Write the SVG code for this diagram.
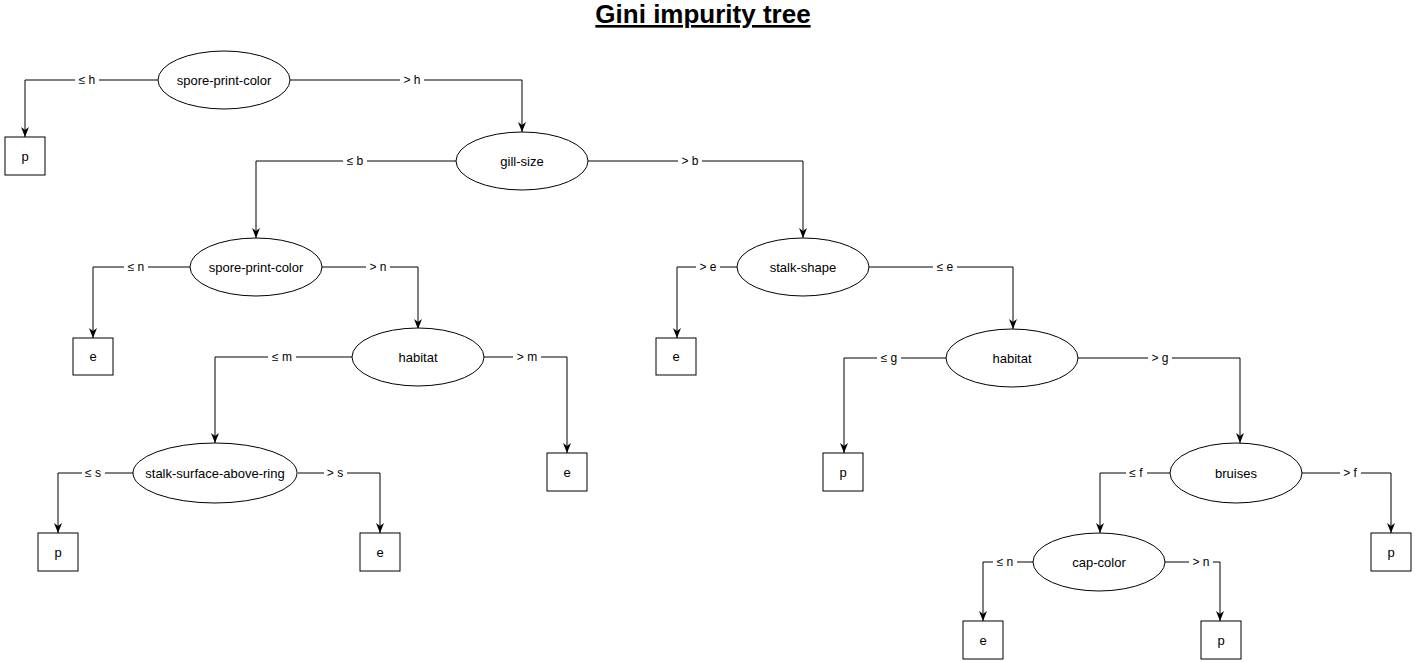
<svg xmlns="http://www.w3.org/2000/svg" width="1418" height="662" viewBox="0 0 1418 662">
<style>
.n ellipse,.n rect{fill:#fff;stroke:#000;stroke-width:1}
.n text{font-family:"Liberation Sans",Arial,sans-serif;font-size:13px;text-anchor:middle;dominant-baseline:central;fill:#000}
.e path{fill:none;stroke:#000;stroke-width:1;marker-end:url(#arr)}
.lb rect{fill:#fff;stroke:none}
.lb text{font-family:"Liberation Sans",Arial,sans-serif;font-size:12px;text-anchor:middle;dominant-baseline:central;fill:#000}
.title{font-family:"Liberation Sans",Arial,sans-serif;font-size:26px;font-weight:bold;text-anchor:middle;text-decoration:underline}
</style>
<defs>
<marker id="arr" viewBox="0 0 10 10" refX="10" refY="5" markerWidth="10" markerHeight="10" markerUnits="userSpaceOnUse" orient="auto">
<path d="M0,1 L10,5 L0,9 L3,5 z" fill="#000"/>
</marker>
</defs>
<rect width="1418" height="662" fill="#fff"/>
<text class="title" x="703" y="23">Gini impurity tree</text>

<g id="connectors" class="e">
<path d="M158,80 H25 V137"/>
<path d="M290,80 H522 V132"/>
<path d="M457,161 H256 V238"/>
<path d="M588,161 H803 V238"/>
<path d="M190,267 H93 V338"/>
<path d="M322,267 H418 V329"/>
<path d="M352,357 H215 V443"/>
<path d="M484,357 H567 V453"/>
<path d="M133,473 H58 V533"/>
<path d="M298,473 H380 V533"/>
<path d="M737,267 H677 V338"/>
<path d="M869,267 H1013 V329"/>
<path d="M946,358 H844 V453"/>
<path d="M1078,358 H1240 V443"/>
<path d="M1170,473 H1100 V533"/>
<path d="M1302,473 H1391 V533"/>
<path d="M1033,562 H983 V621"/>
<path d="M1165,562 H1220 V621"/>
</g>

<g id="labels" class="lb">
<rect x="75" y="73" width="24" height="14"/><text x="87" y="80">≤ h</text>
<rect x="400" y="73" width="24" height="14"/><text x="412" y="80">&gt; h</text>
<rect x="343" y="154" width="24" height="14"/><text x="355" y="161">≤ b</text>
<rect x="678" y="154" width="24" height="14"/><text x="690" y="161">&gt; b</text>
<rect x="124" y="260" width="24" height="14"/><text x="136" y="267">≤ n</text>
<rect x="366" y="260" width="24" height="14"/><text x="378" y="267">&gt; n</text>
<rect x="268" y="350" width="28" height="14"/><text x="282" y="357">≤ m</text>
<rect x="513" y="350" width="28" height="14"/><text x="527" y="357">&gt; m</text>
<rect x="82" y="466" width="23" height="14"/><text x="93" y="473">≤ s</text>
<rect x="324" y="466" width="23" height="14"/><text x="335" y="473">&gt; s</text>
<rect x="696" y="260" width="24" height="14"/><text x="708" y="267">&gt; e</text>
<rect x="933" y="260" width="24" height="14"/><text x="945" y="267">≤ e</text>
<rect x="877" y="351" width="24" height="14"/><text x="889" y="358">≤ g</text>
<rect x="1148" y="351" width="24" height="14"/><text x="1160" y="358">&gt; g</text>
<rect x="1126" y="466" width="21" height="14"/><text x="1136" y="473">≤ f</text>
<rect x="1340" y="466" width="21" height="14"/><text x="1350" y="473">&gt; f</text>
<rect x="993" y="555" width="24" height="14"/><text x="1005" y="562">≤ n</text>
<rect x="1189" y="555" width="24" height="14"/><text x="1201" y="562">&gt; n</text>
</g>

<g id="n-root" class="n"><ellipse cx="224" cy="80" rx="66" ry="29"/><text x="224" y="80">spore-print-color</text></g>
<g id="n-leaf1" class="n"><rect x="5" y="137" width="40" height="38"/><text x="25" y="156">p</text></g>
<g id="n-gill" class="n"><ellipse cx="522" cy="161" rx="66" ry="29"/><text x="522" y="161">gill-size</text></g>
<g id="n-spore2" class="n"><ellipse cx="256" cy="267" rx="66" ry="29"/><text x="256" y="267">spore-print-color</text></g>
<g id="n-leaf2" class="n"><rect x="73" y="338" width="40" height="37"/><text x="93" y="356">e</text></g>
<g id="n-habitat1" class="n"><ellipse cx="418" cy="357" rx="66" ry="29"/><text x="418" y="357">habitat</text></g>
<g id="n-leaf3" class="n"><rect x="547" y="453" width="40" height="38"/><text x="567" y="472">e</text></g>
<g id="n-stalksurf" class="n"><ellipse cx="215" cy="473" rx="82" ry="30"/><text x="215" y="473">stalk-surface-above-ring</text></g>
<g id="n-leaf4" class="n"><rect x="38" y="533" width="40" height="38"/><text x="58" y="552">p</text></g>
<g id="n-leaf5" class="n"><rect x="360" y="533" width="40" height="38"/><text x="380" y="552">e</text></g>
<g id="n-stalkshape" class="n"><ellipse cx="803" cy="267" rx="66" ry="29"/><text x="803" y="267">stalk-shape</text></g>
<g id="n-leaf6" class="n"><rect x="656" y="338" width="40" height="37"/><text x="676" y="356">e</text></g>
<g id="n-habitat2" class="n"><ellipse cx="1012" cy="358" rx="66" ry="29"/><text x="1012" y="358">habitat</text></g>
<g id="n-leaf7" class="n"><rect x="823" y="453" width="40" height="38"/><text x="843" y="472">p</text></g>
<g id="n-bruises" class="n"><ellipse cx="1236" cy="473" rx="66" ry="30"/><text x="1236" y="473">bruises</text></g>
<g id="n-leaf8" class="n"><rect x="1371" y="533" width="40" height="38"/><text x="1391" y="552">p</text></g>
<g id="n-capcolor" class="n"><ellipse cx="1099" cy="562" rx="66" ry="29"/><text x="1099" y="562">cap-color</text></g>
<g id="n-leaf9" class="n"><rect x="963" y="621" width="40" height="38"/><text x="983" y="640">e</text></g>
<g id="n-leaf10" class="n"><rect x="1201" y="621" width="40" height="38"/><text x="1221" y="640">p</text></g>
</svg>
